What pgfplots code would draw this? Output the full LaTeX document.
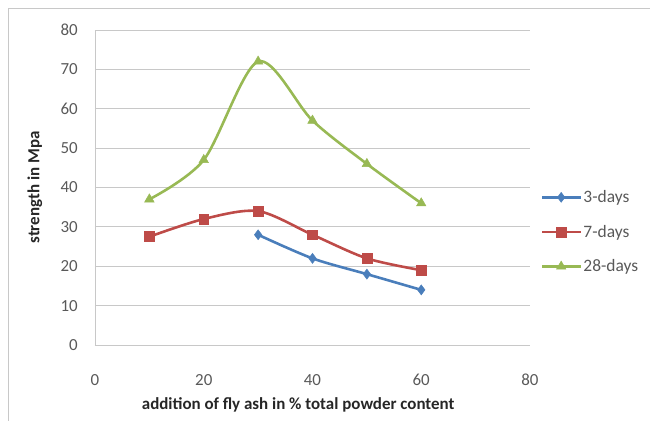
\documentclass[border=0pt]{standalone}
\usepackage{pgfplots}
\pgfplotsset{compat=1.18}
\usepackage{fontspec}
\setmainfont{Carlito}
\definecolor{xlblue}{HTML}{4A7EBB}
\definecolor{xlred}{HTML}{BE4B48}
\definecolor{xlgreen}{HTML}{98B954}
\definecolor{gridgray}{HTML}{C8C8C8}
\definecolor{ticktext}{HTML}{595959}
\begin{document}
\begin{tikzpicture}
\useasboundingbox (-95bp,-76bp) rectangle (555bp,345bp);
\draw[gridgray, line width=0.8pt] (-87bp,-80bp) -- (-87bp,337bp) -- (560bp,337bp);
\begin{axis}[
    at={(0,0)}, anchor=south west,
    scale only axis,
    width=435bp, height=315bp,
    xmin=0, xmax=80, ymin=0, ymax=80,
    xtick={0,20,...,80}, ytick={0,10,...,80},
    axis x line=bottom, axis y line=left,
    axis line style={gridgray, line width=0.8pt, -},
    major tick length=0pt,
    ymajorgrids=true,
    grid style={gridgray, line width=0.8pt},
    /pgf/number format/assume math mode=true,
    tick label style={font=\fontsize{17}{19}\selectfont, text=ticktext, inner sep=0pt},
    xticklabel style={anchor=center, yshift=-35bp},
    yticklabel style={anchor=east, xshift=-17bp},
    xlabel={\textbf{addition of fly ash in \% total powder content}},
    ylabel={\textbf{strength in Mpa}},
    label style={font=\fontsize{17}{19}\selectfont, text=black!85},
    xlabel style={at={(axis description cs:0.467,-0.19)}, anchor=center},
    ylabel style={at={(axis description cs:-0.138,0.5)}, anchor=center},
    legend style={at={(1.02,0.359)}, anchor=west, draw=none, fill=none,
        font=\fontsize{17.5}{19}\selectfont, text=ticktext, row sep=17bp,
        inner sep=2pt},
    legend cell align=left,
    legend image code/.code={\draw[mark repeat=2, mark phase=2]
        plot coordinates {(0bp,0bp) (19bp,0bp) (38bp,0bp)};},
    every axis plot/.append style={line width=2.6pt, smooth, tension=0.5},
]
\addplot[xlblue, mark=diamond*, mark size=5pt, mark options={solid, line width=0.5pt}]
coordinates {(30,28) (40,22) (50,18) (60,14)};
\addplot[xlred, mark=square*, mark size=5pt, mark options={solid, line width=0.5pt}]
coordinates {(10,27.5) (20,32) (30,34) (40,28) (50,22) (60,19)};
\addplot[xlgreen, mark=triangle*, mark size=5.5pt, mark options={solid, line width=0.5pt}]
coordinates {(10,37) (20,47) (30,72) (40,57) (50,46) (60,36)};
\legend{3-days, 7-days, 28-days}
\end{axis}
\end{tikzpicture}
\end{document}
